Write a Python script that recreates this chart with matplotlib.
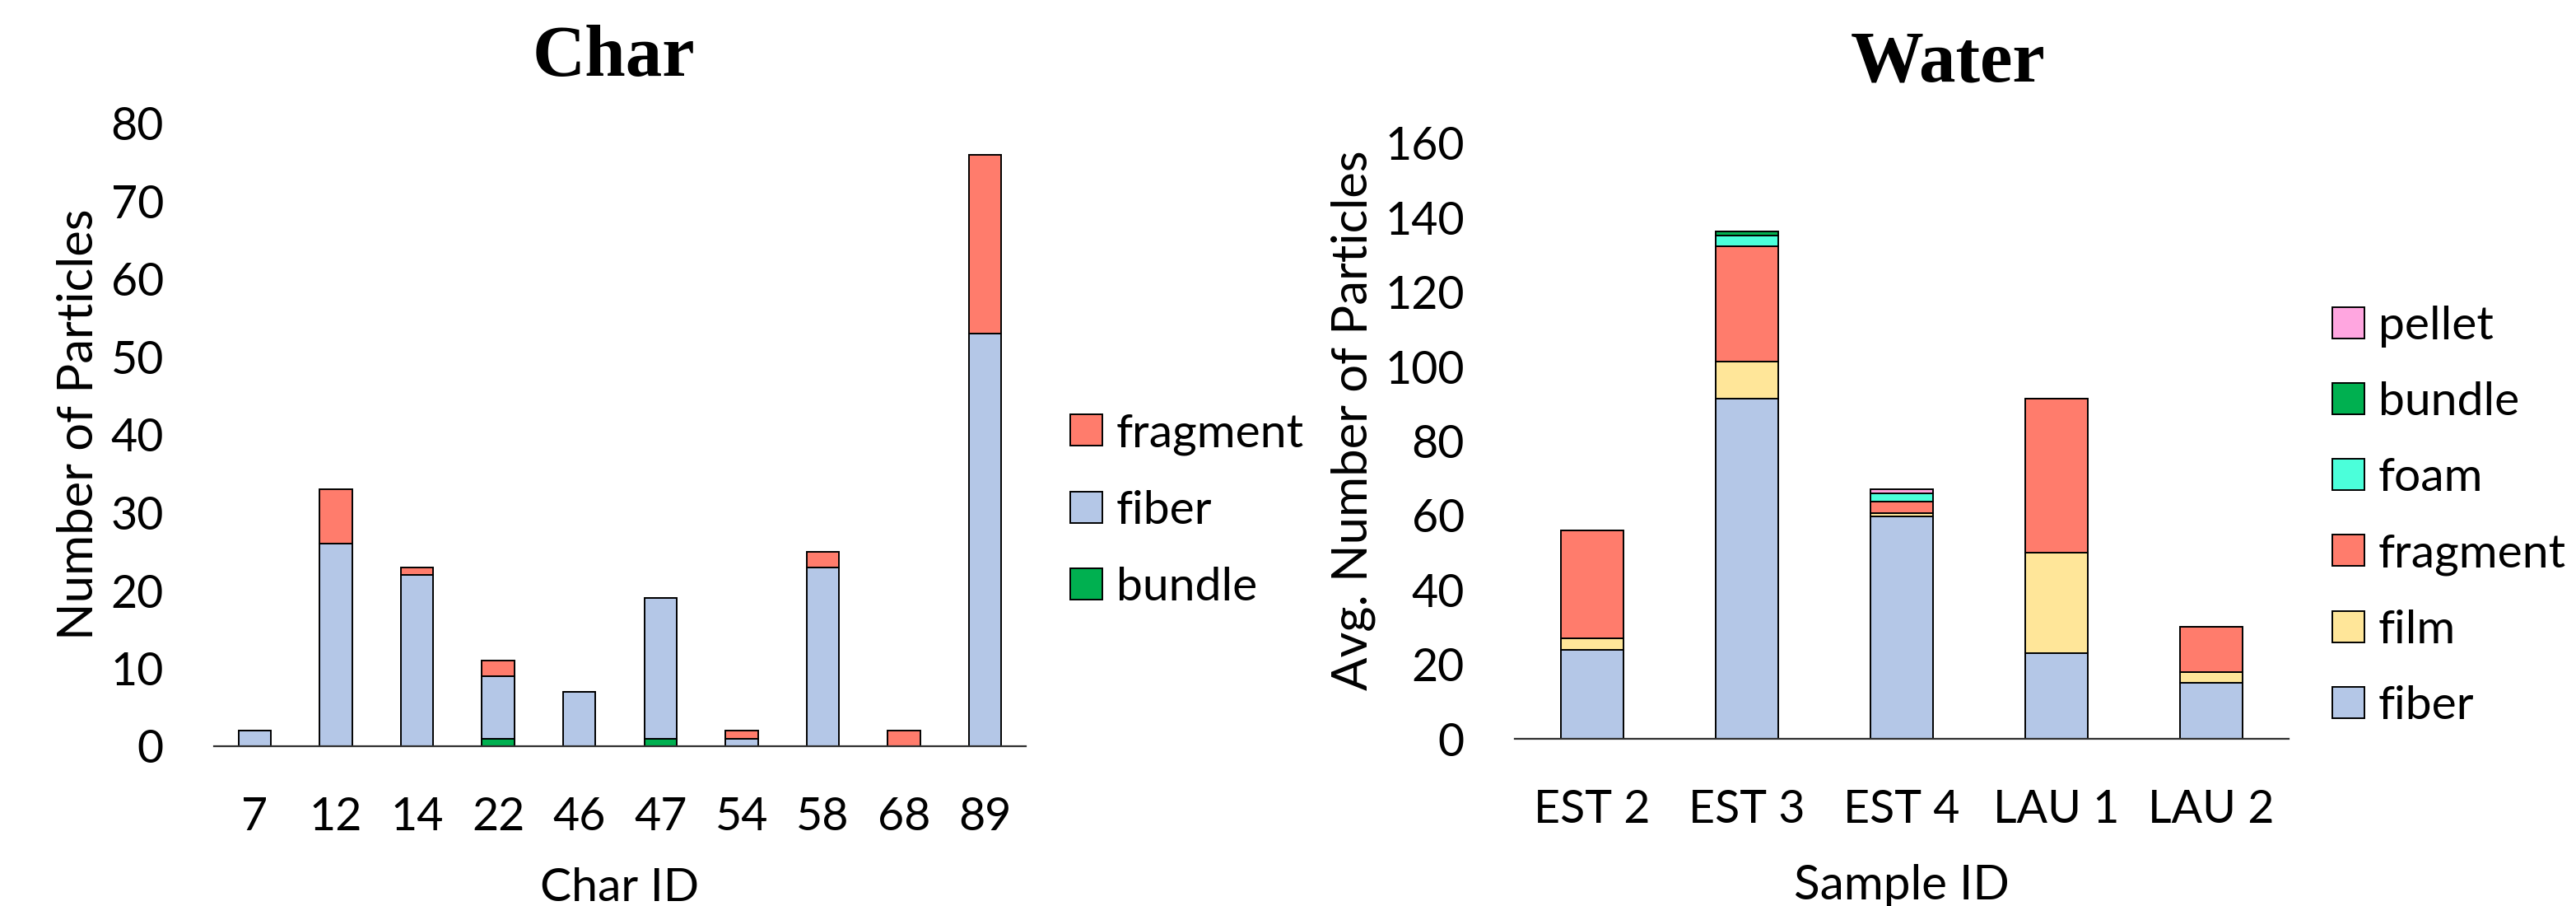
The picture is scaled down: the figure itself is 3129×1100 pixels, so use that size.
import numpy as np
import matplotlib
matplotlib.use("Agg")
import matplotlib.pyplot as plt

plt.rcParams['font.family'] = ['Lato', 'DejaVu Sans']

# char panel data (stacked bottom -> top: bundle, fiber, fragment)
char_ids = ["7", "12", "14", "22", "46", "47", "54", "58", "68", "89"]
char_bundle = [0, 0, 0, 1, 0, 1, 0, 0, 0, 0]
char_fiber = [2, 26, 22, 8, 7, 18, 1, 23, 0, 53]
char_fragment = [0, 7, 1, 2, 0, 0, 1, 2, 2, 23]

# water panel data (stacked bottom -> top)
sample_ids = ["EST 2", "EST 3", "EST 4", "LAU 1", "LAU 2"]
w_fiber = [24, 91.3, 59.7, 23, 15]
w_film = [3, 10, 1, 27, 3]
w_fragment = [29, 31, 3, 41.3, 12]
w_foam = [0, 3, 2.3, 0, 0]
w_bundle = [0, 1.1, 0, 0, 0]
w_pellet = [0, 0, 1, 0, 0]

colors = {"fiber": "#B4C7E7", "fragment": "#FF7C6C", "bundle": "#00B050",
          "film": "#FFE699", "foam": "#4BFFDA", "pellet": "#FFA6E0"}

W, H = 3129, 1100
fig = plt.figure(figsize=(W / 100, H / 100), dpi=100)

ax1 = fig.add_axes([260 / W, 1 - 906 / H, 986 / W, 756 / H])
ax2 = fig.add_axes([1840 / W, 1 - 897 / H, 940 / W, 723 / H])

def style(ax):
    for s in ["left", "top", "right"]:
        ax.spines[s].set_visible(False)
    ax.spines["bottom"].set_color("#303030")
    ax.spines["bottom"].set_linewidth(1.6)
    ax.tick_params(axis="both", length=0, labelsize=40)
    ax.tick_params(axis="y", pad=44)
    ax.tick_params(axis="x", pad=44)

# left: Char
x1 = np.arange(len(char_ids))
bw = 0.4
bot = np.zeros(len(char_ids))
for name, vals in [("bundle", char_bundle), ("fiber", char_fiber), ("fragment", char_fragment)]:
    ax1.bar(x1, vals, bw, bottom=bot, color=colors[name], edgecolor="black",
            linewidth=1.4, label=name)
    bot += np.array(vals)
ax1.set_xlim(-0.5, len(char_ids) - 0.5)
ax1.set_ylim(0, 80)
ax1.set_yticks(range(0, 81, 10))
ax1.set_xticks(x1)
ax1.set_xticklabels(char_ids)
style(ax1)
ax1.set_xlabel("Char ID", fontsize=41, labelpad=25)
ax1.set_ylabel("Number of Particles", fontsize=43)
ax1.yaxis.set_label_coords(-0.166, 0.517)
ax1.yaxis.label.set_va("center")
h, l = ax1.get_legend_handles_labels()
ax1.legend(h[::-1], l[::-1], loc="center left", bbox_to_anchor=(1300 / W, 1 - 620 / H),
           bbox_transform=fig.transFigure, frameon=False, fontsize=41,
           handlelength=0.68, handleheight=0.66, handletextpad=0.3,
           labelspacing=0.74, borderpad=0, borderaxespad=0)

# right: Water
x2 = np.arange(len(sample_ids))
bot = np.zeros(len(sample_ids))
for name, vals in [("fiber", w_fiber), ("film", w_film), ("fragment", w_fragment),
                   ("foam", w_foam), ("bundle", w_bundle), ("pellet", w_pellet)]:
    ax2.bar(x2, vals, bw, bottom=bot, color=colors[name], edgecolor="black",
            linewidth=1.4, label=name)
    bot += np.array(vals)
ax2.set_xlim(-0.5, len(sample_ids) - 0.5)
ax2.set_ylim(0, 160)
ax2.set_yticks(range(0, 161, 20))
ax2.set_xticks(x2)
ax2.set_xticklabels(sample_ids)
style(ax2)
ax2.set_xlabel("Sample ID", fontsize=42, labelpad=29)
ax2.set_ylabel("Avg. Number of Particles", fontsize=43)
ax2.yaxis.set_label_coords(-0.2085, 0.535)
ax2.yaxis.label.set_va("center")
h, l = ax2.get_legend_handles_labels()
ax2.legend(h[::-1], l[::-1], loc="center left", bbox_to_anchor=(2833 / W, 1 - 627 / H),
           bbox_transform=fig.transFigure, frameon=False, fontsize=41,
           handlelength=0.68, handleheight=0.66, handletextpad=0.3,
           labelspacing=0.72, borderpad=0, borderaxespad=0)

fig.text(745 / W, 1 - 92 / H, "Char", ha="center", va="baseline", fontsize=64,
         fontweight="bold", family="Liberation Serif")
fig.text(2366 / W, 1 - 99 / H, "Water", ha="center", va="baseline", fontsize=64,
         fontweight="bold", family="Liberation Serif")

fig.savefig("out.png", dpi=100)
